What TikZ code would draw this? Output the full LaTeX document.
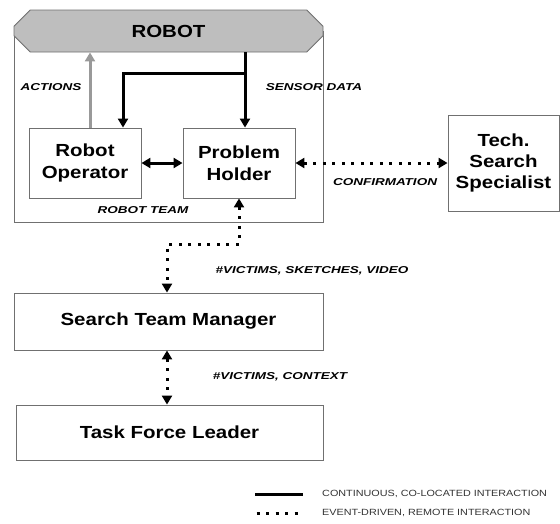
\documentclass[tikz,border=0pt]{standalone}
\usepackage{fontspec}
\setmainfont{Liberation Sans}
\newfontfamily\boxfont{Liberation Sans}[FakeStretch=1.17]
\newfontfamily\labelfont{Liberation Sans}[FakeStretch=1.35]
\newfontfamily\legendfont{Liberation Sans}[FakeStretch=1.2]
\usetikzlibrary{arrows.meta,shapes.misc}
\definecolor{robotgray}{HTML}{BEBEBE}
\definecolor{framegray}{HTML}{707070}
\definecolor{actiongray}{HTML}{999999}
\definecolor{legendgray}{HTML}{333333}
\tikzset{
  box/.style={draw=framegray, line width=0.9pt, fill=white, align=center,
    font=\boxfont\fontsize{17.5}{22.5}\selectfont\bfseries, inner sep=0pt},
  solidlink/.style={draw=black, line width=3pt, -{Triangle[length=9pt,width=10pt]}},
  solidboth/.style={draw=black, line width=3pt, {Triangle[length=9pt,width=10pt]}-{Triangle[length=9pt,width=10pt]}},
  actionlink/.style={draw=actiongray, line width=3pt, -{Triangle[length=9pt,width=10pt]}},
  dotline/.style={draw=black, line width=3pt, dash pattern=on 3pt off 6.5pt},
  dotboth/.style={dotline, {Triangle[length=9pt,width=10pt]}-{Triangle[length=9pt,width=10pt]}},
  flowlabel/.style={font=\labelfont\fontsize{10}{11}\selectfont\bfseries\itshape, inner sep=0pt},
  legendtext/.style={font=\legendfont\fontsize{9}{10}\selectfont, text=legendgray, inner sep=0pt, anchor=west},
}
\begin{document}
\begin{tikzpicture}[x=1pt,y=-1pt]
\useasboundingbox (0,0) rectangle (560,523);

% robot team frame
\draw[framegray, line width=0.9pt] (14,31) rectangle (323,222);

% the robot
\node[chamfered rectangle, chamfered rectangle xsep=10pt, chamfered rectangle ysep=10pt,
  draw=framegray, line width=0.9pt, fill=robotgray, minimum width=309pt, minimum height=42pt,
  inner sep=0pt, font=\boxfont\fontsize{17.5}{20}\selectfont\bfseries] (robot) at (168.5,31) {ROBOT};

% people
\node[box, minimum width=112pt, minimum height=70pt] (ro) at (85,163) {Robot\\Operator};
\node[box, minimum width=112pt, minimum height=70pt] (ph) at (239,163) {Problem\\Holder};
\node[box, minimum width=111pt, minimum height=96pt, font=\boxfont\fontsize{17.5}{21}\selectfont\bfseries]
  (tss) at (503.5,163) {Tech.\\Search\\Specialist};
\node[box, minimum width=309pt, minimum height=57pt] (stm) at (168.5,321.5) {Search Team Manager};
\node[box, minimum width=307pt, minimum height=55pt] (tfl) at (169.5,432.5) {Task Force Leader};

% actions from the operator to the robot
\draw[actionlink] ([xshift=5pt]ro.north) -- ([xshift=5pt]ro.north |- robot.south);

% sensor data from the robot to both team members
\coordinate (sd) at ([xshift=6pt]ph.north |- robot.south);
\coordinate (br) at ([yshift=-21pt]sd);
\draw[solidlink] (sd) -- ([xshift=6pt]ph.north);
\draw[solidlink] (br) -| ([xshift=38pt]ro.north);

% co-located exchange inside the team
\draw[solidboth] (ro.east) -- (ph.west);

% remote links
\draw[dotboth] (ph.east) -- (tss.west);
\coordinate (turn) at ([yshift=-46pt]ph.south);
\draw[dotboth] (ph.south) -- (turn) -| ([xshift=-1.5pt]stm.north);
\draw[dotboth] ([xshift=-1.5pt]stm.south) -- ([xshift=-1.5pt]stm.south |- tfl.north);

% labels
\node[flowlabel] (lact) at (51,87) {ACTIONS};
\node[flowlabel] (lsen) at (314,87) {SENSOR DATA};
\node[flowlabel] (lteam) at (143,210) {ROBOT TEAM};
\node[flowlabel] (lconf) at (385,182) {CONFIRMATION};
\node[flowlabel] (lvid) at (312,271) {\#VICTIMS, SKETCHES, VIDEO};
\node[flowlabel] (lctx) at (280,377) {\#VICTIMS, CONTEXT};

% legend
\coordinate (l1a) at (255,494);
\coordinate (l1b) at (303,494);
\coordinate (l2a) at (256.5,513);
\coordinate (l2b) at (303,513);
\draw[draw=black, line width=3pt] (l1a) -- (l1b);
\draw[dotline] (l2a) -- (l2b);
\node[legendtext] (leg1) at (322,494) {CONTINUOUS, CO-LOCATED INTERACTION};
\node[legendtext] (leg2) at (322,513) {EVENT-DRIVEN, REMOTE INTERACTION};
\end{tikzpicture}
\end{document}
